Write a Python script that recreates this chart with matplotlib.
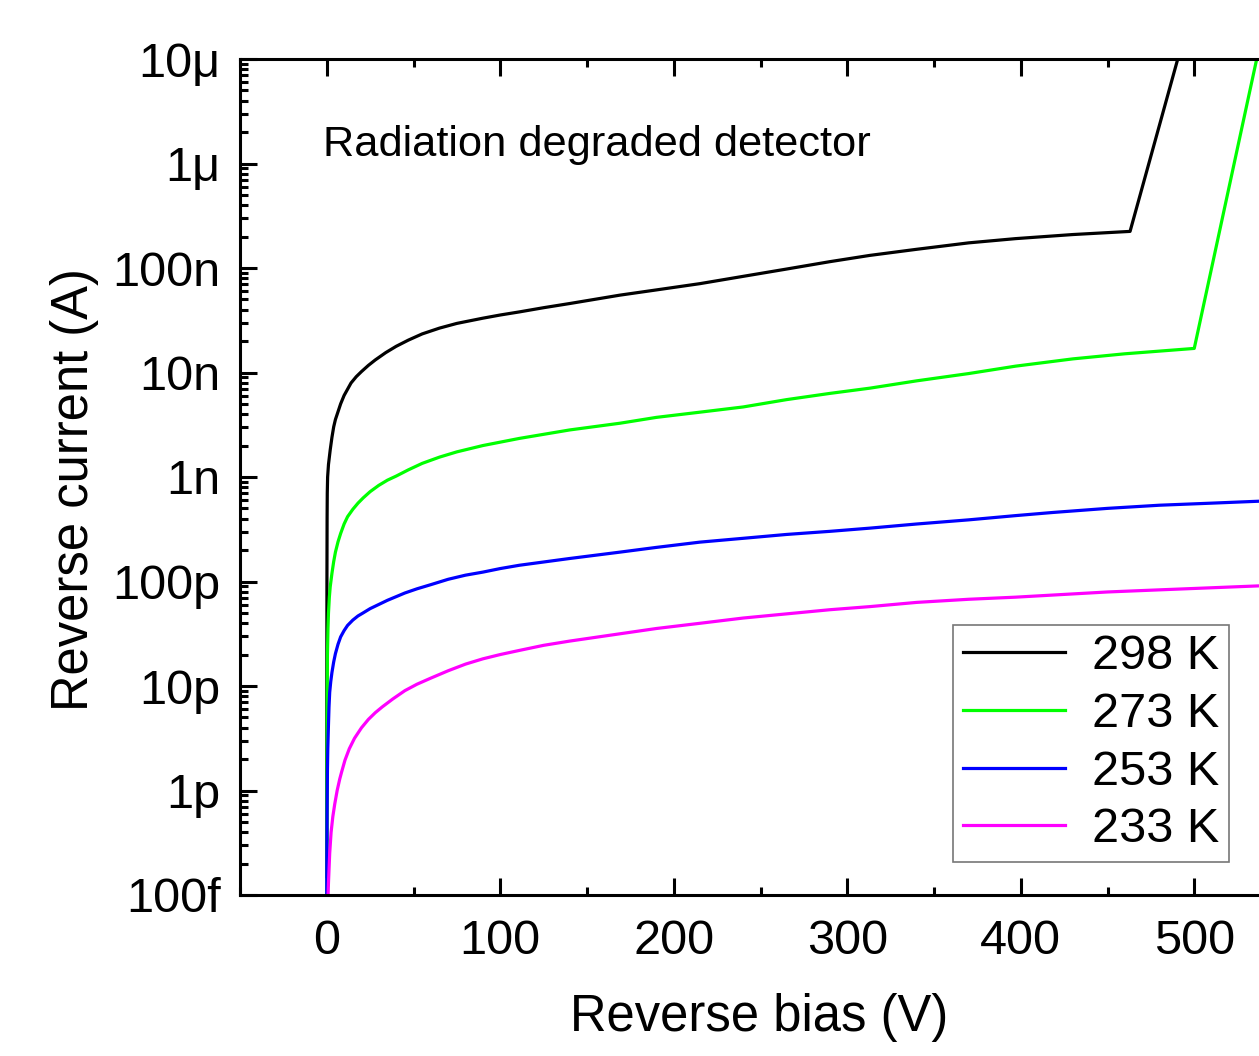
import matplotlib
matplotlib.use("Agg")
import matplotlib.pyplot as plt
from matplotlib.ticker import FixedLocator, FixedFormatter, MultipleLocator, LogLocator, NullFormatter

plt.rcParams['font.family'] = ['Liberation Sans', 'DejaVu Sans']

# reverse bias (V) and reverse current (A)
v_298 = [0, 0.02, 0.05, 0.1, 0.2, 0.3, 0.5, 1, 2, 3, 4, 5, 6, 8, 10, 12, 14, 17, 20, 24, 28, 34,
         40, 47, 55, 65, 75, 90, 100, 111, 125, 140, 169, 190, 215, 240, 265, 290, 313, 340, 370,
         397, 430, 463, 490.5]
i_298 = [1.5e-13, 1e-12, 1e-11, 1e-10, 4e-10, 7e-10, 1.0e-9, 1.32e-9, 1.82e-9, 2.40e-9, 3.02e-9,
         3.55e-9, 3.98e-9, 5.01e-9, 6.03e-9, 6.92e-9, 7.94e-9, 9.12e-9, 1.02e-8, 1.17e-8, 1.32e-8,
         1.55e-8, 1.78e-8, 2.04e-8, 2.34e-8, 2.66e-8, 2.95e-8, 3.31e-8, 3.55e-8, 3.80e-8, 4.17e-8,
         4.57e-8, 5.50e-8, 6.17e-8, 7.08e-8, 8.32e-8, 9.77e-8, 1.15e-7, 1.32e-7, 1.51e-7, 1.74e-7,
         1.91e-7, 2.09e-7, 2.24e-7, 1e-5]

v_273 = [0.05, 0.1, 0.2, 0.4, 0.7, 1, 1.5, 2, 3, 4, 5, 6.5, 8, 10, 12, 15, 18, 21, 25, 30, 35,
         40, 47, 55, 65, 75, 90, 111, 140, 169, 190, 215, 240, 265, 290, 313, 340, 370, 397,
         430, 460, 500, 536]
i_273 = [1e-13, 1e-12, 5.01e-12, 2.0e-11, 3.55e-11, 5.01e-11, 7.08e-11, 8.91e-11, 1.20e-10,
         1.55e-10, 1.91e-10, 2.40e-10, 2.88e-10, 3.55e-10, 4.17e-10, 4.90e-10, 5.62e-10, 6.31e-10,
         7.24e-10, 8.32e-10, 9.33e-10, 1.02e-9, 1.17e-9, 1.35e-9, 1.55e-9, 1.74e-9, 2.00e-9,
         2.34e-9, 2.82e-9, 3.27e-9, 3.72e-9, 4.17e-9, 4.68e-9, 5.50e-9, 6.31e-9, 7.08e-9, 8.32e-9,
         9.77e-9, 1.15e-8, 1.35e-8, 1.51e-8, 1.70e-8, 1e-5]

v_253 = [0, 0.1, 0.2, 0.4, 0.6, 0.9, 1.3, 1.7, 2.3, 3, 4, 5, 6.5, 8, 10, 12, 15, 18, 21, 25, 30,
         35, 40, 45, 52, 60, 70, 80, 90, 100, 111, 140, 169, 190, 215, 240, 265, 290, 313, 340,
         370, 397, 418, 450, 480, 510, 540]
i_253 = [1e-13, 3.16e-13, 6.31e-13, 1.58e-12, 2.51e-12, 3.80e-12, 6.31e-12, 8.71e-12, 1.10e-11,
         1.35e-11, 1.70e-11, 2.04e-11, 2.51e-11, 2.95e-11, 3.39e-11, 3.80e-11, 4.27e-11, 4.68e-11,
         5.01e-11, 5.50e-11, 6.03e-11, 6.61e-11, 7.16e-11, 7.76e-11, 8.51e-11, 9.33e-11, 1.05e-10,
         1.15e-10, 1.23e-10, 1.33e-10, 1.43e-10, 1.66e-10, 1.91e-10, 2.12e-10, 2.38e-10, 2.59e-10,
         2.82e-10, 3.02e-10, 3.24e-10, 3.55e-10, 3.89e-10, 4.27e-10, 4.57e-10, 5.01e-10, 5.37e-10,
         5.62e-10, 5.89e-10]

v_233 = [0.75, 1.0, 1.7, 2.5, 3.5, 4.6, 6, 7.5, 8.6, 10.5, 13, 16, 20, 24, 28, 32, 38, 45, 52,
         60, 70, 80, 90, 100, 111, 125, 140, 169, 190, 215, 240, 265, 290, 313, 340, 370, 397,
         418, 450, 480, 510, 540]
i_233 = [1e-13, 1.32e-13, 2.51e-13, 3.98e-13, 5.62e-13, 7.41e-13, 1.0e-12, 1.29e-12, 1.51e-12,
         1.95e-12, 2.51e-12, 3.16e-12, 3.98e-12, 4.79e-12, 5.56e-12, 6.31e-12, 7.50e-12, 9.02e-12,
         1.04e-11, 1.19e-11, 1.40e-11, 1.62e-11, 1.82e-11, 2.00e-11, 2.19e-11, 2.45e-11, 2.69e-11,
         3.16e-11, 3.55e-11, 3.98e-11, 4.47e-11, 4.90e-11, 5.37e-11, 5.75e-11, 6.31e-11, 6.76e-11,
         7.08e-11, 7.41e-11, 7.94e-11, 8.32e-11, 8.71e-11, 9.12e-11]

labels = ["298 K", "273 K", "253 K", "233 K"]
colors = ["black", "#00ff00", "#0000ff", "#ff00ff"]

y_ticks = [1e-13, 1e-12, 1e-11, 1e-10, 1e-9, 1e-8, 1e-7, 1e-6, 1e-5]
y_ticklabels = ["100f", "1p", "10p", "100p", "1n", "10n", "100n", "1\u03bc", "10\u03bc"]

fig = plt.figure(figsize=(12.59, 10.56), dpi=100)
ax = fig.add_axes([240 / 1259, 161 / 1056, 1041 / 1259, 836 / 1056])

series = [(v_298, i_298), (v_273, i_273), (v_253, i_253), (v_233, i_233)]
for (v, i), lab, c in zip(series, labels, colors):
    ax.plot(v, i, color=c, lw=2.3, label=lab)

ax.set_yscale("log")
ax.set_xlim(-50, 550)
ax.set_ylim(1e-13, 1e-5)

ax.xaxis.set_major_locator(MultipleLocator(100))
ax.xaxis.set_minor_locator(MultipleLocator(50))
ax.yaxis.set_major_locator(FixedLocator(y_ticks))
ax.yaxis.set_major_formatter(FixedFormatter(y_ticklabels))
ax.yaxis.set_minor_locator(LogLocator(base=10, subs=range(2, 10), numticks=20))
ax.yaxis.set_minor_formatter(NullFormatter())

ax.tick_params(which="both", direction="in", top=True, right=False, width=2.2, labelsize=35)
ax.tick_params(which="major", length=12)
ax.tick_params(which="minor", length=6)
ax.tick_params(axis="x", which="major", pad=17)
ax.tick_params(axis="y", which="major", pad=14)
for s in ax.spines.values():
    s.set_linewidth(2.2)

ax.set_xlabel("Reverse bias (V)", fontsize=36.5)
ax.set_ylabel("Reverse current (A)", fontsize=36.5)
ax.xaxis.set_label_coords(0.4986, -0.117)
ax.yaxis.set_label_coords(-0.135, 0.4844)

fig.text(323 / 1259, (1056 - 156) / 1056, "Radiation degraded detector", fontsize=31.2,
         va="baseline", ha="left")

leg = ax.legend(loc="lower right", bbox_to_anchor=(1229 / 1259, 194 / 1056),
                bbox_transform=fig.transFigure, fontsize=35, frameon=True, fancybox=False,
                handlelength=2.1, handletextpad=0.55, labelspacing=0.26, borderpad=0.2,
                borderaxespad=0, edgecolor="#555555")
leg.get_frame().set_linewidth(1.2)

fig.savefig("out.png", dpi=100)
